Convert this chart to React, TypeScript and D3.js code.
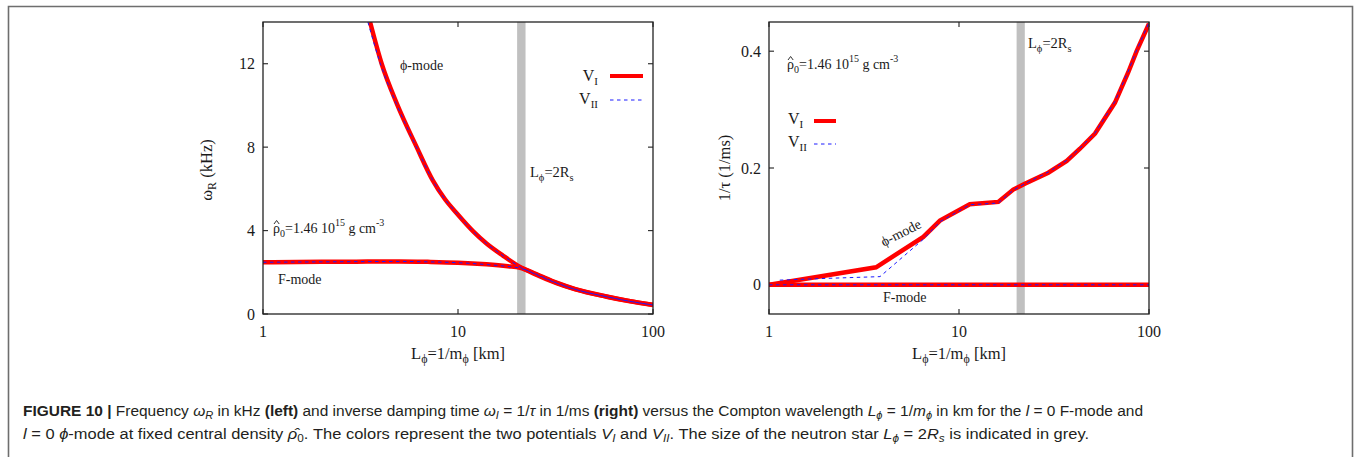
import React from "react";
import * as d3 from "d3";

// ---------- data ----------
const xTicks = [1, 10, 100];
const yTicksLeft = [0, 4, 8, 12];
const yTicksRight = [0, 0.2, 0.4];
const bandRange = [20.1, 22.2];

// left panel: omega_R (kHz) vs L_phi (km)
const phiLeftVI: [number, number][] = [
  [3.54, 14], [4.06, 12], [4.85, 10.1], [6.14, 8.0], [7.41, 6.42], [8.58, 5.5],
  [9.85, 4.83], [12, 3.95], [14, 3.38], [17, 2.8], [20.8, 2.26], [25, 1.9],
  [32, 1.48], [40, 1.18], [57.8, 0.83], [75, 0.62], [100, 0.43],
];
const phiLeftVII: [number, number][] = [
  [3.45, 14], [4.0, 12], [4.82, 10.1], [6.12, 8.0], [7.41, 6.42], [8.58, 5.5],
  [9.85, 4.83], [12, 3.95], [14, 3.38], [17, 2.8], [20.8, 2.26], [25, 1.9],
  [32, 1.48], [40, 1.18], [57.8, 0.83], [75, 0.62], [100, 0.43],
];
const fLeftVI: [number, number][] = [
  [1, 2.48], [2, 2.5], [3, 2.51], [5, 2.52], [7, 2.5], [10, 2.46], [14, 2.38],
  [18, 2.29], [20.8, 2.22], [25, 1.93], [32, 1.5], [40, 1.19], [57.8, 0.84],
  [75, 0.63], [100, 0.44],
];
const fLeftVII: [number, number][] = [
  [1, 2.48], [2, 2.5], [3, 2.51], [5, 2.52], [7, 2.5], [10, 2.46], [14, 2.37],
  [18, 2.28], [20.8, 2.2], [25, 1.92], [32, 1.49], [40, 1.18], [57.8, 0.83],
  [75, 0.62], [100, 0.43],
];

// right panel: 1/tau (1/ms) vs L_phi (km)
const phiRightVI: [number, number][] = [
  [1, 0], [3.66, 0.03], [6.49, 0.082], [7.94, 0.11], [11.4, 0.138], [16.1, 0.142],
  [19.3, 0.163], [22.2, 0.173], [29.5, 0.192], [36.9, 0.212], [43.3, 0.233],
  [52, 0.259], [66.2, 0.312], [77.8, 0.364], [86.1, 0.4], [100, 0.447],
];
const phiRightVII: [number, number][] = [
  [1.14, 0.008], [2, 0.011], [3.84, 0.014], [6.49, 0.078], [7.94, 0.108],
  [11.4, 0.137], [16.1, 0.14], [19.3, 0.162], [22.2, 0.173], [29.5, 0.193],
  [36.9, 0.213], [43.3, 0.234], [52, 0.26], [66.2, 0.314], [77.8, 0.366],
  [86.1, 0.402], [100, 0.449],
];
const fRightVI: [number, number][] = [[1, 0], [10, 0], [100, 0]];
const fRightVII: [number, number][] = [[1, 0], [10, 0], [100, 0]];

// ---------- styles ----------
const RED = "#ff0000";
const BLUE = "#1a1aff";
const SERIF = "'Liberation Serif', 'Times New Roman', serif";
const SANS = "'Liberation Sans', Arial, sans-serif";
const INK = "#1a1a1a";

const xLeft = d3.scaleLog().domain([1, 100]).range([263, 653]);
const yLeft = d3.scaleLinear().domain([0, 14]).range([314, 22]);
const xRight = d3.scaleLog().domain([1, 100]).range([769, 1149]);
const yRight = d3.scaleLinear().domain([-0.05, 0.45]).range([314, 22]);

function Panel({ x, y, yTicks, fmt }: any) {
  const [x0, x1] = x.range();
  const [y0, y1] = y.range();
  return (
    <g>
      <rect
        x={x(bandRange[0])}
        y={y1}
        width={x(bandRange[1]) - x(bandRange[0])}
        height={y0 - y1}
        fill="#c0c0c0"
      />
      {yTicks.map((t: number) => (
        <g key={"y" + t}>
          <line x1={x0} x2={x0 + 5} y1={y(t)} y2={y(t)} stroke="#333" strokeWidth={1.2} />
          <line x1={x1} x2={x1 - 5} y1={y(t)} y2={y(t)} stroke="#333" strokeWidth={1.2} />
          <text x={x0 - 8} y={y(t) + 5.5} textAnchor="end" fontFamily={SERIF} fontSize={16} fill={INK}>
            {fmt(t)}
          </text>
        </g>
      ))}
      {xTicks.map((t: number) => (
        <g key={"x" + t}>
          <line x1={x(t)} x2={x(t)} y1={y0} y2={y0 - 5} stroke="#333" strokeWidth={1.2} />
          <line x1={x(t)} x2={x(t)} y1={y1} y2={y1 + 5} stroke="#333" strokeWidth={1.2} />
          <text x={x(t)} y={y0 + 23} textAnchor="middle" fontFamily={SERIF} fontSize={16} fill={INK}>
            {t}
          </text>
        </g>
      ))}
      <text x={(x0 + x1) / 2} y={y0 + 45} textAnchor="middle" fontFamily={SERIF} fontSize={16.5} fill={INK}>
        L<tspan dy={4} fontSize={12}>ϕ</tspan>
        <tspan dy={-4}>=1/m</tspan>
        <tspan dy={4} fontSize={12}>ϕ</tspan>
        <tspan dy={-4}> [km]</tspan>
      </text>
    </g>
  );
}

function Frame({ x, y }: any) {
  const [x0, x1] = x.range();
  const [y0, y1] = y.range();
  return <rect x={x0} y={y1} width={x1 - x0} height={y0 - y1} fill="none" stroke="#222" strokeWidth={1.3} />;
}

function Rho({ x, y }: any) {
  return (
    <g>
      <text x={x} y={y} fontFamily={SERIF} fontSize={14} fill={INK}>
        ρ<tspan dy={4} fontSize={10}>0</tspan>
        <tspan dy={-4}>=1.46 10</tspan>
        <tspan dy={-7} fontSize={10}>15</tspan>
        <tspan dy={7}> g cm</tspan>
        <tspan dy={-7} fontSize={10}>-3</tspan>
      </text>
      <path
        d={`M${x + 1},${y - 9} L${x + 3.6},${y - 12.5} L${x + 6.2},${y - 9}`}
        fill="none"
        stroke={INK}
        strokeWidth={0.9}
      />
    </g>
  );
}

export default function App() {
  const smooth = d3.curveMonotoneX;
  const lin = d3.curveLinear;
  const path = (data: [number, number][], x: any, y: any, curve: any) =>
    d3
      .line<[number, number]>()
      .x((d) => x(d[0]))
      .y((d) => y(d[1]))
      .curve(curve)(data) as string;

  const redW = 4.5;
  const blueDash = "3.5,3.5";

  return (
    <svg
      width={1354}
      height={457}
      style={{ position: "absolute", left: 0, top: 0, background: "#fff" }}
    >
      {/* outer frame */}
      <path d="M8.5,460 V6.5 H1352.5 V460" fill="none" stroke="#6e6e6e" strokeWidth={1.6} />

      <defs>
        <clipPath id="clipL">
          <rect x={263} y={22} width={390} height={292} />
        </clipPath>
        <clipPath id="clipR">
          <rect x={769} y={22} width={380} height={292} />
        </clipPath>
      </defs>

      {/* ---------- left panel ---------- */}
      <Panel x={xLeft} y={yLeft} yTicks={yTicksLeft} fmt={(t: number) => String(t)} />
      <g clipPath="url(#clipL)" fill="none">
        <path d={path(fLeftVI, xLeft, yLeft, smooth)} stroke={RED} strokeWidth={redW} />
        <path d={path(phiLeftVI, xLeft, yLeft, smooth)} stroke={RED} strokeWidth={redW} />
        <path d={path(fLeftVII, xLeft, yLeft, smooth)} stroke={BLUE} strokeWidth={1} strokeDasharray={blueDash} />
        <path d={path(phiLeftVII, xLeft, yLeft, smooth)} stroke={BLUE} strokeWidth={1} strokeDasharray={blueDash} />
      </g>
      <Frame x={xLeft} y={yLeft} />
      <text
        transform="translate(212,170) rotate(-90)"
        textAnchor="middle"
        fontFamily={SERIF}
        fontSize={16.5}
        fill={INK}
      >
        ω<tspan dy={4} fontSize={12}>R</tspan>
        <tspan dy={-4}> (kHz)</tspan>
      </text>
      <text x={400} y={70} fontFamily={SERIF} fontSize={14} fill={INK}>ϕ-mode</text>
      <text x={598} y={81} textAnchor="end" fontFamily={SERIF} fontSize={16} fill={INK}>
        V<tspan dy={4} fontSize={11}>I</tspan>
      </text>
      <line x1={610} x2={643} y1={76} y2={76} stroke={RED} strokeWidth={4} />
      <text x={598} y={104} textAnchor="end" fontFamily={SERIF} fontSize={16} fill={INK}>
        V<tspan dy={4} fontSize={11}>II</tspan>
      </text>
      <line x1={610} x2={643} y1={100} y2={100} stroke={BLUE} strokeWidth={1} strokeDasharray={blueDash} />
      <text x={530} y={177} fontFamily={SERIF} fontSize={14.5} fill={INK}>
        L<tspan dy={4} fontSize={10.5}>ϕ</tspan>
        <tspan dy={-4}>=2R</tspan>
        <tspan dy={4} fontSize={10.5}>s</tspan>
      </text>
      <Rho x={273} y={233} />
      <text x={278} y={284} fontFamily={SERIF} fontSize={14} fill={INK}>F-mode</text>

      {/* ---------- right panel ---------- */}
      <Panel x={xRight} y={yRight} yTicks={yTicksRight} fmt={(t: number) => (t === 0 ? "0" : String(t))} />
      <g clipPath="url(#clipR)" fill="none">
        <path d={path(fRightVI, xRight, yRight, lin)} stroke={RED} strokeWidth={redW} />
        <path d={path(phiRightVI, xRight, yRight, lin)} stroke={RED} strokeWidth={redW} />
        <path d={path(fRightVII, xRight, yRight, lin)} stroke={BLUE} strokeWidth={1} strokeDasharray={blueDash} />
        <path d={path(phiRightVII, xRight, yRight, lin)} stroke={BLUE} strokeWidth={1} strokeDasharray={blueDash} />
      </g>
      <Frame x={xRight} y={yRight} />
      <text
        transform="translate(730,168) rotate(-90)"
        textAnchor="middle"
        fontFamily={SERIF}
        fontSize={16.5}
        fill={INK}
      >
        1/τ (1/ms)
      </text>
      <text x={1028} y={48} fontFamily={SERIF} fontSize={14.5} fill={INK}>
        L<tspan dy={4} fontSize={10.5}>ϕ</tspan>
        <tspan dy={-4}>=2R</tspan>
        <tspan dy={4} fontSize={10.5}>s</tspan>
      </text>
      <Rho x={787} y={69} />
      <text x={788} y={124} fontFamily={SERIF} fontSize={16} fill={INK}>
        V<tspan dy={4} fontSize={11}>I</tspan>
      </text>
      <line x1={814} x2={836} y1={121} y2={121} stroke={RED} strokeWidth={4} />
      <text x={788} y={147} fontFamily={SERIF} fontSize={16} fill={INK}>
        V<tspan dy={4} fontSize={11}>II</tspan>
      </text>
      <line x1={814} x2={836} y1={144} y2={144} stroke={BLUE} strokeWidth={1} strokeDasharray={blueDash} />
      <text
        transform="translate(903,237) rotate(-27)"
        textAnchor="middle"
        fontFamily={SERIF}
        fontSize={14}
        fill={INK}
      >
        ϕ-mode
      </text>
      <text x={883} y={302} fontFamily={SERIF} fontSize={14} fill={INK}>F-mode</text>

      {/* ---------- caption ---------- */}
      <text x={23} y={416} fontFamily={SANS} fontSize={14} fill="#231f20" textLength={1120} lengthAdjust="spacingAndGlyphs">
        <tspan fontWeight="bold">FIGURE 10 | </tspan>
        <tspan>Frequency </tspan>
        <tspan fontStyle="italic">ω</tspan>
        <tspan fontStyle="italic" fontSize={10} dy={3}>R</tspan>
        <tspan dy={-3}> in kHz </tspan>
        <tspan fontWeight="bold">(left)</tspan>
        <tspan> and inverse damping time </tspan>
        <tspan fontStyle="italic">ω</tspan>
        <tspan fontStyle="italic" fontSize={10} dy={3}>I</tspan>
        <tspan dy={-3}> = 1/</tspan>
        <tspan fontStyle="italic">τ</tspan>
        <tspan> in 1/ms </tspan>
        <tspan fontWeight="bold">(right)</tspan>
        <tspan> versus the Compton wavelength </tspan>
        <tspan fontStyle="italic">L</tspan>
        <tspan fontStyle="italic" fontSize={10} dy={3}>ϕ</tspan>
        <tspan dy={-3}> = 1/</tspan>
        <tspan fontStyle="italic">m</tspan>
        <tspan fontStyle="italic" fontSize={10} dy={3}>ϕ</tspan>
        <tspan dy={-3}> in km for the </tspan>
        <tspan fontStyle="italic">l</tspan>
        <tspan> = 0 F-mode and</tspan>
      </text>
      <text x={23} y={439} fontFamily={SANS} fontSize={14} fill="#231f20" textLength={1066} lengthAdjust="spacingAndGlyphs">
        <tspan fontStyle="italic">l</tspan>
        <tspan> = 0 </tspan>
        <tspan fontStyle="italic">ϕ</tspan>
        <tspan>-mode at fixed central density </tspan>
        <tspan fontStyle="italic">ρ̂</tspan>
        <tspan fontSize={10} dy={3}>0</tspan>
        <tspan dy={-3}>. The colors represent the two potentials </tspan>
        <tspan fontStyle="italic">V</tspan>
        <tspan fontStyle="italic" fontSize={10} dy={3}>I</tspan>
        <tspan dy={-3}> and </tspan>
        <tspan fontStyle="italic">V</tspan>
        <tspan fontStyle="italic" fontSize={10} dy={3}>II</tspan>
        <tspan dy={-3}>. The size of the neutron star </tspan>
        <tspan fontStyle="italic">L</tspan>
        <tspan fontStyle="italic" fontSize={10} dy={3}>ϕ</tspan>
        <tspan dy={-3}> = 2</tspan>
        <tspan fontStyle="italic">R</tspan>
        <tspan fontStyle="italic" fontSize={10} dy={3}>s</tspan>
        <tspan dy={-3}> is indicated in grey.</tspan>
      </text>
    </svg>
  );
}
